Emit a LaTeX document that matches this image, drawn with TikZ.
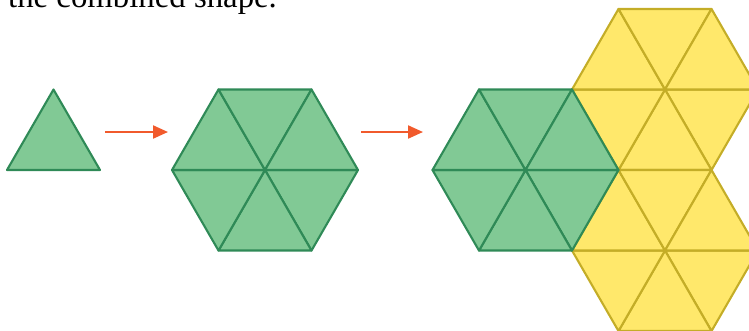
\documentclass[tikz,border=0pt]{standalone}
\usepackage{fontspec}
\setmainfont{Liberation Serif}
\usetikzlibrary{arrows.meta,positioning}

\definecolor{tilegreen}{HTML}{81C995}
\definecolor{edgegreen}{HTML}{2F8A57}
\definecolor{tileyellow}{HTML}{FFE86B}
\definecolor{edgeyellow}{HTML}{C4AD27}
\definecolor{arroworange}{HTML}{F15A2C}

\tikzset{
  greentile/.style={fill=tilegreen, draw=edgegreen, line width=2.1pt, line join=round},
  yellowtile/.style={fill=tileyellow, draw=edgeyellow, line width=2.1pt, line join=round},
  steparrow/.style={draw=arroworange, line width=2.2pt, -{Triangle[length=15pt,width=13pt]}}
}

\begin{document}
\begin{tikzpicture}[x=1pt,y=-1pt]

  \useasboundingbox (0,0) rectangle (749,330);
  \clip (0,0) rectangle (749,330);

  % Caption line, cut off at the top
  \node[anchor=base west, inner sep=0pt, font=\fontsize{32.8}{38}\selectfont]
    (caption) at (8,7.3) {the combined shape.};

  % Single triangle
  \draw[greentile] (7,170) -- (100,170) -- (53.5,89.5) -- cycle;

  % Hexagon centres
  \coordinate (hexsix) at (265,170);
  \coordinate (hexmid) at (525.5,170);
  \coordinate (hextop) at (665,89.5);
  \coordinate (hexlow) at (665,250.5);

  % Hexagons made of six triangles (yellow first, green on top)
  \foreach \h/\s in {hextop/yellowtile, hexlow/yellowtile, hexsix/greentile, hexmid/greentile}
    \foreach \a in {0,60,...,300}
      \draw[\s] (\h) -- ([shift={(\a:93)}]\h) -- ([shift={(\a+60:93)}]\h) -- cycle;

  % Arrows
  \coordinate (arrowonestart) at (105,132);
  \coordinate (arrowoneend) at (168,132);
  \coordinate (arrowtwostart) at (361,132);
  \coordinate (arrowtwoend) at (423,132);
  \draw[steparrow] (arrowonestart) -- (arrowoneend);
  \draw[steparrow] (arrowtwostart) -- (arrowtwoend);

\end{tikzpicture}
\end{document}
